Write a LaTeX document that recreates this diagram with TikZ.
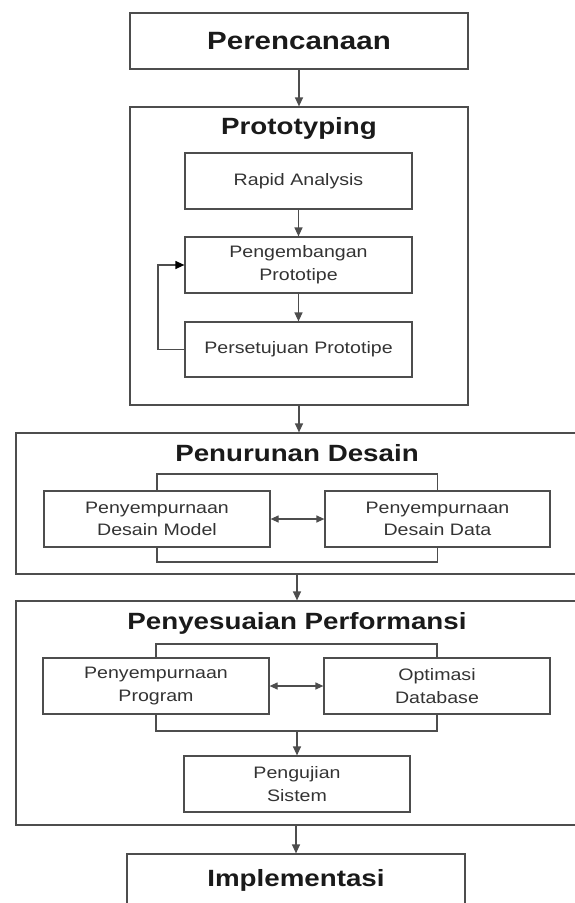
\documentclass[tikz,border=0pt]{standalone}
\usepackage{fontspec}
\setmainfont{Liberation Sans}[FakeStretch=1.18]
\usetikzlibrary{arrows.meta}
\definecolor{linec}{HTML}{4D4D4D}
\definecolor{txtc}{HTML}{333333}
\definecolor{titc}{HTML}{1A1A1A}
\tikzset{
  stepbox/.style={draw=linec, line width=1.2pt, rectangle, inner sep=0pt, align=center,
    text=txtc, font=\fontsize{16.6}{22.7}\selectfont},
  outerbox/.style={draw=linec, line width=1.2pt, rectangle, inner sep=0pt},
  titletxt/.style={inner sep=0pt, text=titc, font=\fontsize{23.5}{28}\selectfont\bfseries},
  conn/.style={draw=linec, line width=1.2pt, -{Triangle[length=9pt,width=8pt]}},
  loopconn/.style={draw=linec, line width=1.2pt, -{Triangle[length=9pt,width=8pt,color=black]}},
  dconn/.style={draw=linec, line width=1.2pt, {Triangle[length=8pt,width=7pt]}-{Triangle[length=8pt,width=7pt]}},
  bracket/.style={draw=linec, line width=1.2pt},
}
\begin{document}
\begin{tikzpicture}[x=1pt,y=-1pt]
\useasboundingbox (0,0) rectangle (575,903);
% Perencanaan
\node[outerbox, minimum width=338pt, minimum height=56pt] (perc) at (299,41) {};
\node[titletxt, font=\fontsize{25}{30}\selectfont\bfseries] (perct) at (299,41) {Perencanaan};
% Prototyping
\node[outerbox, minimum width=338pt, minimum height=298pt] (proto) at (299,256) {};
\node[titletxt] (protot) at (299,128) {Prototyping};
\node[stepbox, minimum width=227pt, minimum height=56pt] (rapid) at (298.5,181) {Rapid Analysis};
\node[stepbox, minimum width=227pt, minimum height=56pt] (peng) at (298.5,265) {Pengembangan\\Prototipe};
\node[stepbox, minimum width=227pt, minimum height=55pt] (pers) at (298.5,349.5) {Persetujuan Prototipe};
\coordinate (loopx) at (158,0);
% Penurunan Desain
\node[outerbox, minimum width=574pt, minimum height=141pt] (penur) at (303,503.5) {};
\node[titletxt] (penurt) at (297,453) {Penurunan Desain};
\node[stepbox, minimum width=226pt, minimum height=56pt] (dm) at (157,519) {Penyempurnaan\\Desain Model};
\node[stepbox, minimum width=225pt, minimum height=56pt] (dd) at (437.5,519) {Penyempurnaan\\Desain Data};
\coordinate (dbt) at (0,474);
\coordinate (dbb) at (0,562);
% Penyesuaian Performansi
\node[outerbox, minimum width=574pt, minimum height=224pt] (peny) at (303,713) {};
\node[titletxt] (penyt) at (297,623) {Penyesuaian Performansi};
\node[stepbox, minimum width=226pt, minimum height=56pt] (pp) at (156,686) {Penyempurnaan\\Program};
\node[stepbox, minimum width=226pt, minimum height=56pt] (od) at (437,686) {Optimasi\\Database};
\node[stepbox, minimum width=226pt, minimum height=56pt] (uji) at (297,784) {Pengujian\\Sistem};
\coordinate (pbt) at (0,644);
\coordinate (pbb) at (0,731);
% Implementasi
\node[outerbox, minimum width=338pt, minimum height=62pt] (impl) at (296,885) {};
\node[titletxt] (implt) at (296,880) {Implementasi};
% connectors
\draw[conn] (perc.south) -- (perc.south |- proto.north);
\draw[conn] (rapid.south) -- (peng.north);
\draw[conn] (peng.south) -- (pers.north);
\draw[loopconn] (pers.west) -- (pers.west -| loopx) -- (loopx |- peng.west) -- (peng.west);
\draw[conn] (proto.south -| perc.south) -- (perc.south |- penur.north);
\draw[bracket] (dm.north) -- (dm.north |- dbt) -- (dd.north |- dbt) -- (dd.north);
\draw[bracket] (dm.south) -- (dm.south |- dbb) -- (dd.south |- dbb) -- (dd.south);
\draw[dconn] (dm.east) -- (dd.west);
\draw[conn] (uji.north |- penur.south) -- (uji.north |- peny.north);
\draw[bracket] (pp.north) -- (pp.north |- pbt) -- (od.north |- pbt) -- (od.north);
\draw[bracket] (pp.south) -- (pp.south |- pbb) -- (od.south |- pbb) -- (od.south);
\draw[dconn] (pp.east) -- (od.west);
\draw[conn] (uji.north |- pbb) -- (uji.north);
\draw[conn] (impl.north |- peny.south) -- (impl.north);
\end{tikzpicture}
\end{document}
